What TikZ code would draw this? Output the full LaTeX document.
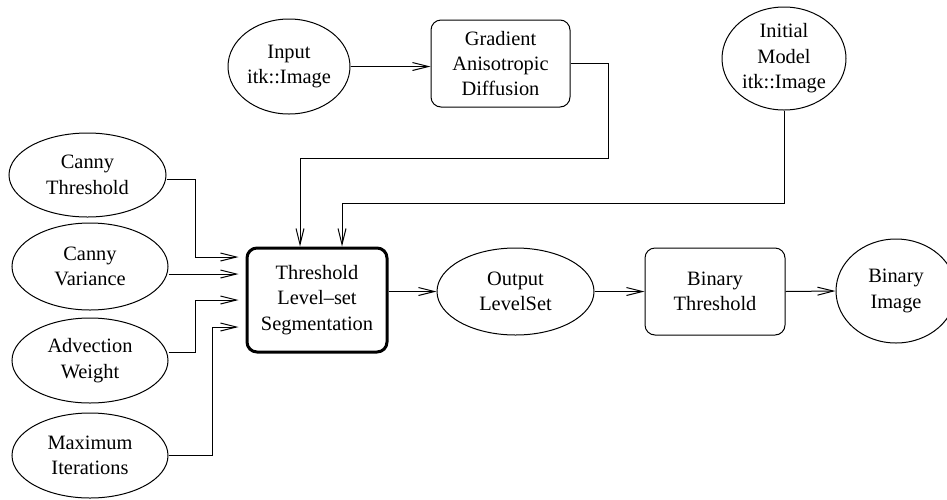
\documentclass[tikz,border=0pt]{standalone}
\usepackage{fontspec}
\setmainfont{Liberation Serif}
\usetikzlibrary{shapes.geometric,arrows.meta}
\begin{document}
\begin{tikzpicture}[x=0.5pt,y=-0.5pt,
    data/.style={draw,ellipse,line width=0.5pt,inner sep=0pt,align=center,
      font=\rmfamily\fontsize{10.2}{12.7}\selectfont},
    filter/.style={draw,rectangle,rounded corners=5pt,line width=0.5pt,inner sep=0pt,
      align=center,font=\rmfamily\fontsize{10.2}{12.7}\selectfont},
    flow/.style={-{Straight Barb[length=8pt,width=4pt]},line width=0.5pt}]
  \useasboundingbox (0,0) rectangle (947,499);
  \node[data,minimum width=61pt,minimum height=47.5pt] (input) at (289,66.5) {Input\\itk::Image};
  \node[filter,minimum width=69.5pt,minimum height=43.5pt] (grad) at (500.5,63.5) {Gradient\\Anisotropic\\Diffusion};
  \node[data,minimum width=62pt,minimum height=51.5pt] (init) at (784,58.5) {Initial\\Model\\itk::Image};
  \node[data,minimum width=78.5pt,minimum height=42pt] (cthr) at (87.5,175) {Canny\\Threshold};
  \node[data,minimum width=78pt,minimum height=43.5pt] (cvar) at (90,266.5) {Canny\\Variance};
  \node[data,minimum width=78pt,minimum height=42.5pt] (adv) at (90,360.5) {Advection\\Weight};
  \node[data,minimum width=78pt,minimum height=42.5pt] (maxit) at (90,455.5) {Maximum\\Iterations};
  \node[filter,line width=1.5pt,minimum width=70pt,minimum height=52pt] (sls) at (317,300) {Threshold\\Level--set\\Segmentation};
  \node[data,minimum width=78.5pt,minimum height=43.5pt] (out) at (515.5,291.5) {Output\\LevelSet};
  \node[filter,minimum width=70pt,minimum height=43.5pt] (bthr) at (715,291.5) {Binary\\Threshold};
  \node[data,minimum width=60pt,minimum height=52pt] (bimg) at (896,291) {Binary\\Image};
  \coordinate (in1) at ([yshift=21.5pt]sls.west);
  \coordinate (in2) at ([yshift=13pt]sls.west);
  \coordinate (in3) at (sls.west);
  \coordinate (in4) at ([yshift=-13.5pt]sls.west);
  \coordinate (top1) at ([xshift=-8.5pt]sls.north);
  \coordinate (top2) at ([xshift=12.5pt]sls.north);
  \coordinate (gbend) at (608,158);
  \coordinate (ibend) at (784,203);
  \draw[flow] (input.east) -- (input.east -| grad.west);
  \draw[flow] (grad.east) -| (gbend) -| (top1);
  \draw[flow] (init.south) -- (ibend) -| (top2);
  \draw[flow,shorten >=3.5pt] ([yshift=-2pt]cthr.east) -- ++(29,0) |- (in1);
  \draw[flow,shorten >=3.5pt] (cvar.east |- in2) -- (in2);
  \draw[flow,shorten >=3.5pt] ([yshift=4pt]adv.east) -- ++(27,0) |- (in3);
  \draw[flow,shorten >=3.5pt] (maxit.east) -- ++(44,0) |- (in4);
  \draw[flow] (sls.east |- out.west) -- (out.west);
  \draw[flow] (out.east) -- (bthr.west);
  \draw[flow] (bthr.east) -- (bimg.west);
\end{tikzpicture}
\end{document}
